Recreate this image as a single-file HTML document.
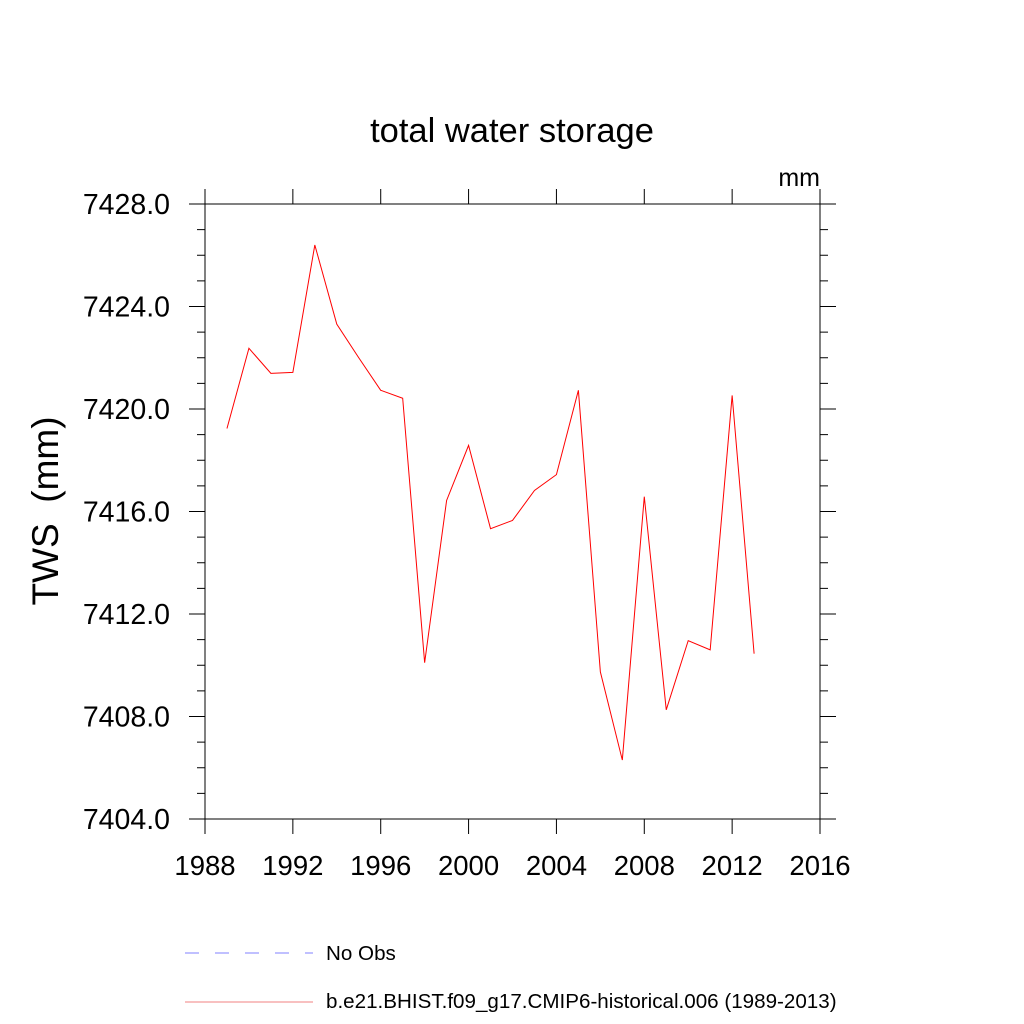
<!DOCTYPE html>
<html><head><meta charset="utf-8"><style>
body{margin:0;background:#fff;}
svg{display:block;font-family:"Liberation Sans",sans-serif;}
</style></head><body>
<svg id="chart" width="1024" height="1024" viewBox="0 0 1024 1024">
<rect width="1024" height="1024" fill="#fff"/>
<text x="512" y="142" font-size="34.5" text-anchor="middle">total water storage</text>
<text x="820" y="186" font-size="25" text-anchor="end">mm</text>
<text transform="translate(58,511) rotate(-90)" font-size="37" text-anchor="middle">TWS &#160;(mm)</text>
<g id="axes"></g>
<g id="series"></g>
<g>
<line x1="185" y1="953" x2="313" y2="953" stroke="#8080ff" stroke-width="1" stroke-dasharray="14,16"/>
<text x="326" y="960" font-size="20.6">No Obs</text>
<line x1="185" y1="1002" x2="313" y2="1002" stroke="#f08080" stroke-width="1"/>
<text x="326" y="1008" font-size="20.6">b.e21.BHIST.f09_g17.CMIP6-historical.006 (1989-2013)</text>
</g>
</svg>
<script>
const years=[1989,1990,1991,1992,1993,1994,1995,1996,1997,1998,1999,2000,2001,2002,2003,2004,2005,2006,2007,2008,2009,2010,2011,2012,2013];
const tws=[7419.24,7422.37,7421.39,7421.43,7426.40,7423.31,7422.0,7420.73,7420.42,7410.10,7416.43,7418.58,7415.33,7415.65,7416.82,7417.44,7420.73,7409.74,7406.30,7416.58,7408.26,7410.96,7410.60,7420.53,7410.45];
const xTicks=[1988,1992,1996,2000,2004,2008,2012,2016];
const yTicks=[7404,7408,7412,7416,7420,7424,7428];
const NS='http://www.w3.org/2000/svg';
const L=205,R=820,T=204,B=819,x0=1988,x1=2016,y0=7404,y1=7428;
const sx=v=>L+(v-x0)/(x1-x0)*(R-L);
const sy=v=>B-(v-y0)/(y1-y0)*(B-T);
const axes=document.getElementById('axes');
function ln(x1_,y1_,x2_,y2_,name){const e=document.createElementNS(NS,'line');e.setAttribute('x1',x1_);e.setAttribute('y1',y1_);e.setAttribute('x2',x2_);e.setAttribute('y2',y2_);e.setAttribute('stroke','#000');e.setAttribute('stroke-width','1');


axes.appendChild(e);return e;}
function tx(x,y,s,anchor,fs,name){const e=document.createElementNS(NS,'text');e.setAttribute('x',x);e.setAttribute('y',y);e.setAttribute('font-size',fs);e.setAttribute('text-anchor',anchor);e.textContent=s;


axes.appendChild(e);}
const fr=document.createElementNS(NS,'rect');fr.setAttribute('x',L);fr.setAttribute('y',T);fr.setAttribute('width',R-L);fr.setAttribute('height',B-T);fr.setAttribute('fill','none');fr.setAttribute('stroke','#000');


axes.appendChild(fr);
xTicks.forEach(v=>{const x=sx(v);ln(x,B,x,B+15,'x-tick');ln(x,T,x,T-15,'x-tick-top');tx(x,B+56,String(v),'middle','27.5','x-tick-label');});
for(let v=y0;v<=y1;v++){const y=sy(v);const major=(v-y0)%4===0;const len=major?16:8;ln(L-len,y,L,y,'y-tick');ln(R,y,R+len,y,'y-tick-right');}
yTicks.forEach(v=>{tx(170,sy(v)+10,v.toFixed(1),'end','28.5','y-tick-label');});
const pts=years.map((y,i)=>sx(y)+','+sy(tws[i])).join(' ');
const pl=document.createElementNS(NS,'polyline');pl.setAttribute('points',pts);pl.setAttribute('fill','none');pl.setAttribute('stroke','#ff0000');pl.setAttribute('stroke-width','1');


document.getElementById('series').appendChild(pl);
</script>
</body></html>
